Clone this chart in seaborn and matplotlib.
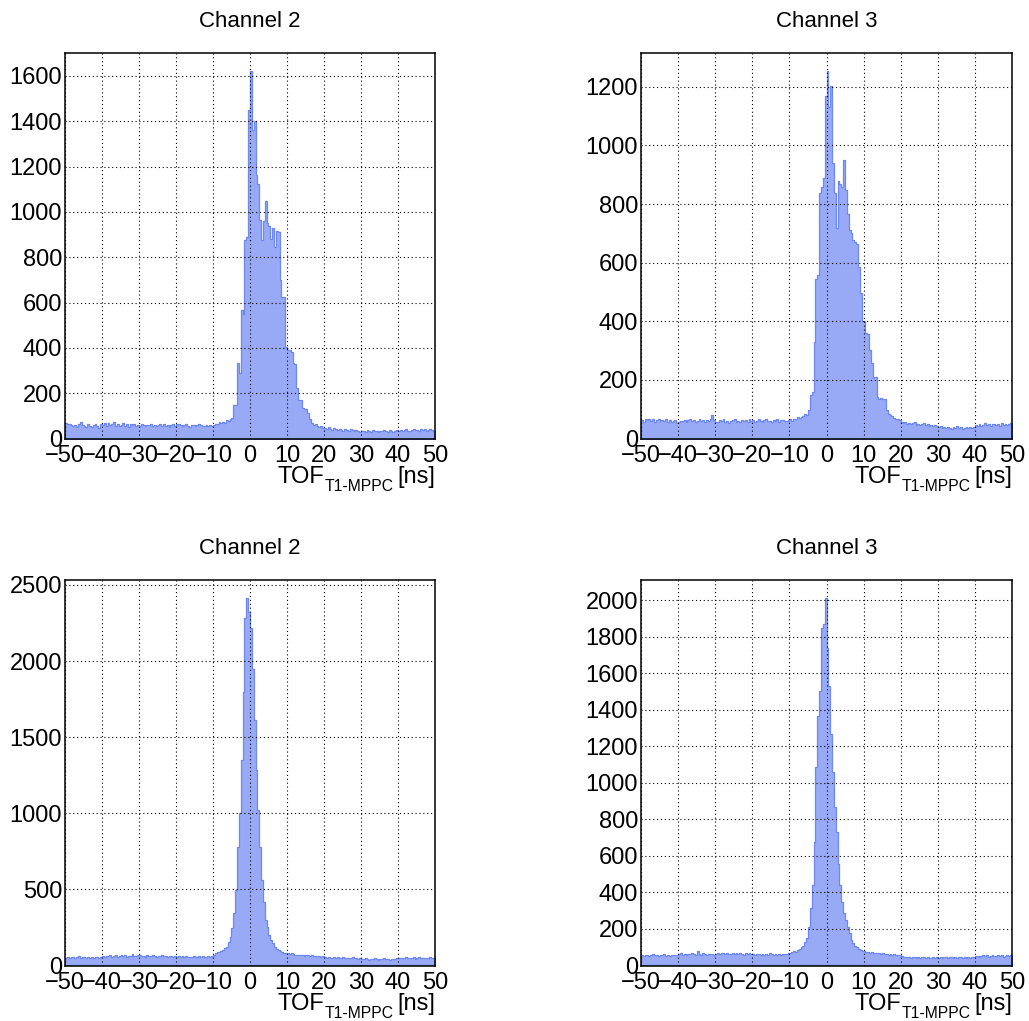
import numpy as np
import pandas as pd
import matplotlib
matplotlib.use("Agg")
import matplotlib.pyplot as plt
import seaborn as sns
from matplotlib.ticker import MultipleLocator

# ---------------- data ----------------
x_range = (-50.0, 50.0)
n_bins = 200
titles = ["Channel 2", "Channel 3", "Channel 2", "Channel 3"]
x_title_main = "TOF"
x_title_sub = "T1-MPPC"
x_title_unit = "[ns]"

ch2_top = [
    68, 62, 66, 58, 55, 60, 52, 63, 72, 61, 57, 50, 64, 56, 49, 59, 62, 54, 48, 66,
    60, 68, 55, 70, 58, 64, 72, 57, 66, 53, 61, 69, 56, 63, 50, 62, 58, 65, 54, 60,
    57, 62, 59, 55, 61, 58, 64, 56, 60, 53, 59, 62, 57, 66, 55, 61, 52, 58, 63, 56,
    62, 66, 58, 54, 60, 63, 57, 52, 59, 61, 56, 60, 64, 58, 55, 57, 60, 53, 58, 56,
    58, 62, 66, 72, 70, 75, 68, 82, 76, 85, 90, 148, 150, 335, 290, 568, 548, 877, 891, 1451,
    1620, 1362, 1399, 1164, 1124, 965, 877, 960, 1046, 950, 936, 880, 928, 845, 915, 912, 700, 625, 624, 405,
    392, 390, 380, 335, 328, 223, 172, 172, 135, 128, 128, 113, 86, 68, 60, 62, 55, 50, 53, 48,
    46, 42, 50, 44, 38, 47, 41, 36, 44, 39, 35, 42, 37, 33, 40, 36, 31, 38, 34, 30,
    35, 32, 29, 36, 33, 30, 37, 34, 31, 28, 35, 32, 38, 33, 30, 36, 33, 29, 35, 37,
    34, 38, 33, 36, 40, 35, 32, 38, 41, 36, 39, 34, 42, 37, 40, 35, 38, 43, 36, 33,
]
ch3_top = [
    64, 58, 66, 62, 68, 60, 65, 57, 63, 67, 59, 64, 61, 66, 58, 62, 55, 60, 64, 52,
    56, 61, 59, 64, 58, 62, 66, 60, 63, 57, 61, 65, 59, 62, 58, 64, 60, 66, 80, 62,
    55, 58, 63, 60, 65, 57, 61, 52, 59, 63, 66, 58, 61, 56, 64, 60, 62, 57, 65, 59,
    63, 58, 61, 66, 60, 55, 62, 65, 59, 61, 57, 63, 60, 66, 58, 62, 64, 59, 61, 63,
    65, 60, 68, 66, 72, 70, 75, 78, 82, 80, 98, 150, 158, 330, 546, 558, 837, 860, 889, 1170,
    1253, 1130, 1202, 940, 837, 720, 880, 870, 860, 950, 848, 765, 712, 700, 677, 670, 665, 586, 496, 400,
    400, 359, 355, 302, 256, 211, 211, 142, 136, 138, 134, 136, 96, 85, 80, 76, 70, 65, 68, 62,
    58, 52, 56, 50, 54, 48, 52, 55, 47, 50, 46, 49, 52, 45, 48, 44, 47, 43, 46, 42,
    38, 41, 36, 39, 35, 40, 37, 34, 39, 36, 41, 35, 38, 33, 37, 40, 35, 38, 36, 39,
    46, 42, 49, 44, 47, 52, 45, 50, 43, 48, 51, 46, 49, 44, 52, 47, 50, 45, 48, 53,
]
ch2_bottom = [
    52, 56, 49, 58, 54, 47, 55, 60, 51, 53, 57, 48, 55, 52, 59, 50, 56, 53, 49, 57,
    61, 58, 65, 62, 68, 59, 63, 66, 57, 64, 70, 61, 67, 58, 63, 60, 78, 64, 61, 66,
    68, 62, 65, 59, 67, 63, 60, 66, 62, 58, 64, 61, 67, 60, 63, 57, 62, 65, 59, 61,
    58, 61, 55, 60, 57, 62, 54, 59, 56, 61, 58, 55, 60, 57, 62, 56, 59, 61, 58, 64,
    72, 80, 86, 90, 96, 102, 112, 124, 157, 190, 244, 343, 496, 781, 1000, 1350, 1799, 2281, 2412, 2324,
    2215, 1950, 1613, 1284, 1022, 781, 560, 420, 300, 255, 200, 170, 146, 124, 110, 102, 95, 88, 84, 80,
    82, 78, 80, 74, 70, 72, 66, 70, 68, 64, 69, 66, 62, 67, 64, 60, 65, 62, 58, 63,
    55, 50, 54, 48, 52, 56, 49, 53, 47, 51, 54, 48, 52, 46, 50, 53, 47, 51, 45, 49,
    44, 40, 46, 42, 38, 45, 41, 47, 43, 39, 44, 41, 46, 40, 43, 38, 45, 42, 40, 46,
    48, 52, 46, 50, 54, 47, 51, 49, 53, 45, 50, 55, 48, 52, 46, 51, 49, 53, 47, 50,
]
ch3_bottom = [
    58, 54, 60, 56, 52, 59, 62, 55, 57, 53, 60, 56, 61, 54, 58, 52, 57, 60, 55, 59,
    62, 66, 60, 64, 58, 65, 61, 67, 63, 59, 80, 64, 60, 66, 62, 58, 65, 61, 63, 60,
    64, 68, 62, 66, 70, 63, 67, 65, 61, 68, 64, 66, 62, 69, 65, 60, 67, 63, 66, 64,
    62, 59, 65, 61, 57, 64, 60, 63, 58, 66, 61, 59, 64, 60, 62, 58, 65, 61, 63, 66,
    70, 74, 78, 76, 85, 88, 100, 106, 131, 149, 213, 313, 440, 676, 1085, 1367, 1504, 1850, 1870, 2010,
    1740, 1531, 1267, 1058, 867, 730, 558, 440, 349, 285, 249, 213, 176, 140, 122, 108, 100, 90, 85, 82,
    78, 74, 76, 70, 72, 68, 71, 66, 69, 64, 67, 62, 65, 60, 63, 58, 61, 57, 60, 55,
    50, 46, 49, 44, 47, 42, 46, 48, 43, 45, 41, 44, 47, 42, 45, 40, 43, 46, 41, 44,
    43, 46, 42, 45, 48, 41, 44, 47, 42, 45, 40, 44, 46, 41, 45, 43, 47, 42, 46, 44,
    50, 54, 49, 53, 57, 51, 55, 48, 52, 56, 50, 54, 58, 51, 55, 49, 53, 57, 52, 56,
]
panel_counts = [ch2_top, ch3_top, ch2_bottom, ch3_bottom]
y_major = [200, 200, 500, 200]
y_minor = [50, 50, 100, 50]

# ---------------- style ----------------
W, H, DPI = 1029, 1021, 100
FILL = "#98a9f6"
EDGE = "#6f88f0"
FONT = "Liberation Sans"

sns.set_style("white")
plt.rcParams["font.family"] = [FONT, "DejaVu Sans"]
plt.rcParams["axes.unicode_minus"] = True
plt.rcParams["text.color"] = "black"
plt.rcParams["xtick.color"] = "black"
plt.rcParams["ytick.color"] = "black"
plt.rcParams["xtick.labelcolor"] = "black"
plt.rcParams["ytick.labelcolor"] = "black"

fig = plt.figure(figsize=(W / DPI, H / DPI), dpi=DPI)
fig.patch.set_facecolor("white")

# axes boxes in pixels: (left, top, right, bottom)
boxes = [(65, 53, 435, 438.5), (641, 53, 1012, 438.5),
         (65, 580, 435, 965.5), (641, 580, 1012, 965.5)]

edges = [x_range[0] + (x_range[1] - x_range[0]) * j / n_bins for j in range(n_bins + 1)]
centers = [0.5 * (edges[j] + edges[j + 1]) for j in range(n_bins)]

axes = []
for k, (l, t, r, b) in enumerate(boxes):
    ax = fig.add_axes([l / W, 1 - b / H, (r - l) / W, (b - t) / H])
    axes.append(ax)
    counts = panel_counts[k]
    assert len(counts) == n_bins
    df = pd.DataFrame({"tof": centers, "counts": counts})
    sns.histplot(data=df, x="tof", weights="counts", bins=edges,
                 element="step", fill=True, facecolor=FILL, edgecolor=EDGE,
                 linewidth=0.9, alpha=1.0, ax=ax)
    ax.set_xlim(*x_range)
    ax.set_ylim(0, 1.05 * max(counts))
    ax.set_xlabel("")
    ax.set_ylabel("")
    ax.xaxis.set_major_locator(MultipleLocator(10))
    ax.xaxis.set_minor_locator(MultipleLocator(2))
    ax.yaxis.set_major_locator(MultipleLocator(y_major[k]))
    ax.yaxis.set_minor_locator(MultipleLocator(y_minor[k]))
    ax.tick_params(axis="both", which="both", direction="in",
                   top=False, right=False, colors="black", width=1.0)
    ax.tick_params(axis="both", which="major", length=8.5, labelsize=17)
    ax.tick_params(axis="both", which="minor", length=4.3)
    ax.tick_params(axis="x", which="major", pad=4.5)
    ax.tick_params(axis="y", which="major", pad=2.0)
    ax.grid(True, which="major", color="black", linestyle=(0, (1, 2.5)),
            linewidth=0.8)
    ax.set_axisbelow(False)
    for sp in ax.spines.values():
        sp.set_visible(True)
        sp.set_color("black")
        sp.set_linewidth(1.1)

    # title
    fig.text(((l + r) / 2) / W, 1 - (t - 25.7) / H, titles[k],
             ha="center", va="baseline", fontsize=16, color="black")

renderer = fig.canvas.get_renderer()
for k, (l, t, r, b) in enumerate(boxes):
    base = b + 44.8
    t3 = fig.text(r / W, 1 - base / H, x_title_unit, ha="right",
                  va="baseline", fontsize=17, color="black")
    w3 = t3.get_window_extent(renderer=renderer).width
    t2 = fig.text((r - w3 - 3.5) / W, 1 - (base + 7.5) / H, x_title_sub,
                  ha="right", va="baseline", fontsize=11.3, color="black")
    w2 = t2.get_window_extent(renderer=renderer).width
    fig.text((r - w3 - 3.5 - w2) / W, 1 - base / H, x_title_main,
             ha="right", va="baseline", fontsize=17, color="black")

fig.savefig("out.png", dpi=DPI)
